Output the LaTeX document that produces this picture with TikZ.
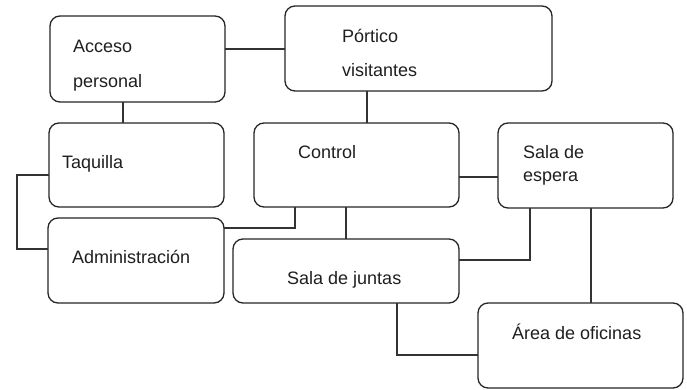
\documentclass[tikz,border=0pt]{standalone}
\usepackage{fontspec}
\setmainfont{Liberation Sans}
\begin{document}
\begin{tikzpicture}[x=1pt,y=-1pt,
  box/.style={draw=black!85, line width=1.3pt, rounded corners=10pt, inner sep=0pt, outer sep=0pt, anchor=north west},
  lbl/.style={anchor=base west, inner sep=0pt, text=black!88, font=\fontsize{18}{20}\selectfont},
  conn/.style={draw=black!80, line width=1.2pt}]
\useasboundingbox[fill=white] (0,0) rectangle (687,390);
% boxes
\node[box, minimum width=175pt, minimum height=86pt] (acc) at (50,16) {};
\node[box, minimum width=267pt, minimum height=85pt] (por) at (285,6) {};
\node[box, minimum width=175pt, minimum height=84pt] (taq) at (49,123) {};
\node[box, minimum width=205pt, minimum height=84pt] (ctl) at (254,123) {};
\node[box, minimum width=175pt, minimum height=85pt] (esp) at (498,123) {};
\node[box, minimum width=176pt, minimum height=85pt] (adm) at (48,218) {};
\node[box, minimum width=226pt, minimum height=64pt] (jun) at (233,239) {};
\node[box, minimum width=205pt, minimum height=85pt] (ofi) at (478,303) {};
% labels
\node[lbl] (tacc1) at (73,53) {Acceso};
\node[lbl] (tacc2) at (73,88) {personal};
\node[lbl] (tpor1) at (342,43) {Pórtico};
\node[lbl] (tpor2) at (342,77) {visitantes};
\node[lbl] (ttaq) at (62,168) {Taquilla};
\node[lbl] (tctl) at (298,158) {Control};
\node[lbl] (tesp1) at (523,159) {Sala de};
\node[lbl] (tesp2) at (523,182) {espera};
\node[lbl] (tadm) at (72,263) {Administración};
\node[lbl] (tjun) at (287,284) {Sala de juntas};
\node[lbl] (tofi) at (512,339) {Área de oficinas};
% connector anchor points
\coordinate (c1) at ([yshift=-33pt]acc.north east);
\coordinate (c2) at ([xshift=73pt]acc.south west);
\coordinate (c3) at ([xshift=82pt]por.south west);
\coordinate (c4) at ([yshift=-54pt]ctl.north east);
\coordinate (c5) at ([yshift=-52pt]taq.north west);
\coordinate (c7) at ([xshift=92pt]ctl.south west);
\coordinate (c9) at ([xshift=93pt]esp.south west);
% connectors
\draw[conn] (c1) -- (c1 -| por.west);
\draw[conn] (c2) -- (c2 |- taq.north);
\draw[conn] (c3) -- (c3 |- ctl.north);
\draw[conn] (c4) -- (c4 -| esp.west);
\draw[conn] (c5) -- ++(-32,0) |- ([yshift=-31pt]adm.north west);
\draw[conn] ([yshift=-10pt]adm.north east) -| ([xshift=41pt]ctl.south west);
\draw[conn] (c7) -- (c7 |- jun.north);
\draw[conn] ([yshift=-21pt]jun.north east) -| ([xshift=32pt]esp.south west);
\draw[conn] (c9) -- (c9 |- ofi.north);
\draw[conn] ([xshift=164pt]jun.south west) |- ([yshift=-52pt]ofi.north west);
\end{tikzpicture}
\end{document}
